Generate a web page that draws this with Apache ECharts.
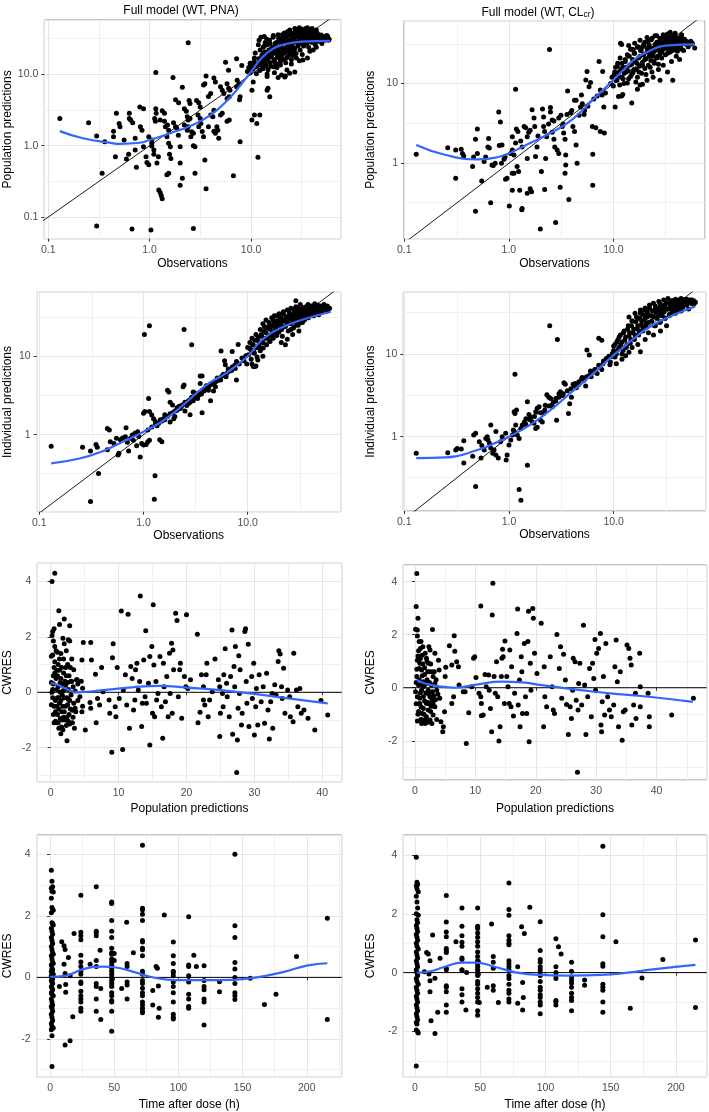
<!DOCTYPE html>
<html><head><meta charset="utf-8">
<script src="https://cdn.jsdelivr.net/npm/echarts@6/dist/echarts.min.js"></script>
<style>html,body{margin:0;padding:0;background:#fff}#c{width:709px;height:1112px}</style>
</head><body><div id="c"></div><script>
// ---------- DATA ----------
const titles = ['Full model (WT, PNA)', 'Full model (WT, CL', 'cr', ')'];

const pnaPop = [[0.13,2.4],[0.25,2.1],[0.30,1.37],[0.34,0.41],[0.36,1.14],[0.30,0.075],[0.67,0.068],[1.03,0.066],[2.7,0.069],
[0.44,1.6],[0.44,1.33],[0.47,2.85],[0.46,0.7],[0.5,2.05],[0.51,1.85],[0.56,1.2],[0.63,2.85],[0.63,2.4],[0.62,0.76],[0.59,0.65],[0.65,2.3],[0.68,2.1],[0.72,1.27],[0.72,0.87],[0.74,0.5],[0.8,3.5],[0.87,3.3],[0.81,1.85],[0.84,1.65],[0.87,0.97],[0.92,0.7],[0.94,0.58],[0.98,0.54],[0.98,1.34],[1.05,1.2],[1.05,1.08],[1.05,0.99],[1.1,0.87],[1.1,0.76],[1.12,2.4],[1.14,2.2],[1.16,2.85],[1.15,10.6],[1.15,3.3],[1.18,0.57],[1.22,0.7],[1.23,0.24],[1.27,0.22],[1.3,0.2],[1.33,0.18],[1.27,2.3],[1.4,2.2],[1.33,3.1],[1.4,2.85],[1.43,1.85],[1.5,1.95],[1.54,1.65],[1.48,1.34],[1.54,1.08],[1.6,0.97],[1.57,0.76],[1.62,0.66],[1.48,0.39],[1.54,0.41],[1.7,9.0],[1.72,2.1],[1.8,1.85],[1.85,1.75],[1.8,4.4],[1.93,4.0],[1.92,1.4],[2.0,0.97],[2.0,0.57],[2.0,0.28],[2.1,0.35],[2.1,6.6],[2.2,3.3],[2.3,3.05],[2.45,4.3],[2.5,3.9],[2.35,2.55],[2.4,2.3],[2.5,2.4],[2.2,1.95],[2.35,1.65],[2.4,1.85],[2.55,1.34],[2.6,1.57],[2.7,1.5],[2.7,1.0],[2.8,0.97],[2.8,0.41],[2.4,27.8],[2.9,4.3],[3.05,4.0],[3.15,3.5],[3.0,2.7],[3.15,2.4],[3.2,2.05],[3.05,1.85],[3.3,1.58],[3.4,1.34],[3.4,7.1],[3.5,7.4],[3.6,9.5],[3.6,0.25],[3.5,0.63],[3.8,4.9],[4.0,5.4],[4.0,2.7],[4.2,2.55],[4.3,3.15],[3.8,1.85],[4.3,1.6],[4.45,1.5],[4.3,8.9],[4.45,7.8],[4.6,1.85],[4.7,1.65],[4.8,1.27],[5.0,6.7],[5.2,6.0],[5.4,5.4],[5.0,2.7],[5.2,2.85],[5.6,14.8],[6.0,11.4],[5.8,7.4],[6.0,6.4],[6.2,6.0],[5.8,4.6],[6.1,4.85],[6.1,2.3],[5.8,2.2],[6.7,0.38],[7.2,16.6],[7.3,8.3],[7.6,7.4],[7.2,6.7],[7.8,4.85],[7.7,4.4],[7.8,1.14],[8.1,13.3],[9.8,14.3],[10,12.2],[10.2,6.0],[10.2,2.3],[10.8,2.7],[11.4,2.05],[11.7,0.69],[12.2,2.7],[14.4,6.0],[15.3,4.85],[14.4,9.3],[14.4,10.1],[21.8,9.5],
[10.5,14],[10.8,17],[11,20],[11.5,13],[11.8,26],[12,30],[12.3,22],[12.6,15],[12.8,17.5],[13,12],[13.3,20],[13.5,25],[13.8,14],[14,18],[14.3,31],[14.6,16],[15,22],[15.3,27],[15.6,13],[16,19],[16.3,24],[16.6,35],[17,15],[17.4,21],[17.8,28],[18,12.5],[18.3,18],[18.7,32],[19,24],[19.5,16],[20,27],[20.3,36],[20.6,20],[21,30],[21.5,23],[22,33],[22.4,17],[22.8,26],[23,40],[23.5,29],[24,21],[24.5,35],[25,27],[25.5,31],[26,24],[26.5,38],[27,20],[27.5,33],[28,28],[28.5,42],[29,25],[29.5,36],[30,30],[30.5,22],[31,34],[31.5,27],[32,39],[32.5,31],[33,25],[33.5,36],[34,29],[34.5,44],[35,33],[35.5,27],[36,37],[36.5,31],[37,24],[37.5,35],[38,29],[38.5,40],[39,33],[40,28],[41,36],[42,31],[43,26],[44,38],[45,33],[46,29],[47,35],[48,31],[50,27],[52,34],[54,31],[56,35],[58,30],
[17,10.5],[19.5,13.5],[25,14],[28,17],[32,19],[38,21],[41,22],[44,24],[30,15.5],[36,17],[12.5,33],[13.5,34],[18.5,9],[22.6,11.5],[24,10.4],
[9.2,11],[9.5,12.5],[9.8,10.5],[10.1,13.5],[10.4,11.8],[10.7,15],[11,12.7],[11.3,10.2],[11.6,14.2],[11.9,16.5],[12.2,11.3],[12.5,13.8],[12.8,18.5],[13.1,12.1],[13.4,15.6],[13.7,20.5],[14,13.2],[14.3,16.8],[14.7,11.6],[15,19.2],[15.4,14.5],[15.8,17.6],[16.2,21.5],[16.6,12.8],[17,16.2],[17.4,19.8],[17.8,14.1],[18.2,23],[18.6,17.1],[19,20.6],[19.5,15.2],[20,18.4],[20.5,22.1],[21,16.3],[21.5,19.7],[22,14.6],[22.6,21],[23.2,17.8],[23.8,23.5],[24.4,19],[25,16],[25.6,21.6],[26.2,18.2],[27,22.8],[27.8,19.6],
[13.2,24],[13.8,28],[14.5,26],[15.2,30],[15.9,23],[16.5,33],[17.2,27],[17.9,25],[18.5,36],[19.2,29],[19.9,24.5],[20.6,32],[21.3,38],[22,27.5],[22.7,35],[23.4,30.5],[24.1,42],[24.8,25.5],[25.5,37],[26.2,32.5],[27,29],[27.7,40],[28.5,34.5],[29.3,26.5],[30.1,38.5],[31,31.5],[31.8,43],[32.7,35.5],[33.6,28.5],[34.5,39.5],[35.4,33.5],[36.4,30],[37.4,41.5],[38.4,36.5],[39.5,32.5],[40.6,39],[41.7,28],[42.8,35],[44,30.5],[45.2,37.5],[46.5,33],[47.8,29.5],[49.2,35.5],[50.6,31],[52,33.5],[53.5,30],[55,32],[57,34],[59,31],[44,42],[40,44],[36,45],[30,45],[27,44],
[10.5,7.8],[14.7,6.4],[20,9.8],[21.5,9.2],[27,10.8],[32.5,15.9]];
const pnaPopFit = [[0.13,1.6],[0.22,1.27],[0.44,1.08],[0.5,1.06],[0.8,1.1],[1.0,1.2],[1.58,1.49],[2.5,1.89],[4,2.7],[6.3,4.85],[7.9,7.1],[10,10.9],[12.6,16.7],[15.8,22],[20,25.7],[31.6,28.7],[60,29.4]];

const clcrPop = [[0.13,1.3],[0.26,1.57],[0.31,1.47],[0.35,1.5],[0.36,1.33],[0.37,1.23],[0.31,0.65],[0.45,0.91],[0.46,1.2],[0.48,2.0],[0.5,2.7],[0.5,1.33],[0.48,0.25],[0.55,0.6],[0.58,1.05],[0.6,1.2],[0.63,1.6],[0.64,2.05],[0.65,1.55],[0.67,0.32],[0.69,0.95],[0.71,0.94],[0.74,1.0],[0.8,4.4],[0.83,3.3],[0.81,1.67],[0.86,1.7],[0.85,1.0],[0.9,1.12],[0.92,1.2],[0.93,0.63],[0.96,0.65],[1.01,0.29],[1.04,1.33],[1.08,1.47],[1.08,2.15],[1.12,1.27],[1.08,0.75],[1.12,0.75],[1.08,0.46],[1.16,8.5],[1.18,2.7],[1.22,2.5],[1.16,1.8],[1.2,0.91],[1.24,0.79],[1.27,0.46],[1.34,0.27],[1.33,0.26],[1.34,1.6],[1.4,2.9],[1.45,2.8],[1.5,2.15],[1.55,2.45],[1.5,1.15],[1.5,0.42],[1.6,0.48],[1.65,0.44],[1.67,4.7],[1.74,3.7],[1.77,2.9],[1.8,1.22],[1.86,1.6],[2.0,0.15],[2.05,0.79],[2.1,4.8],[2.15,3.8],[2.15,2.9],[2.2,0.47],[2.25,1.15],[2.3,2.15],[2.45,26.8],[2.5,5.0],[2.5,4.4],[2.6,3.5],[2.6,2.45],[2.7,2.0],[2.75,1.6],[2.8,0.18],[2.9,1.47],[3.0,1.33],[3.1,0.5],[3.15,4.0],[3.25,2.9],[3.35,2.4],[3.45,2.0],[3.5,1.27],[3.5,0.95],[3.45,0.75],[3.75,0.35],[3.65,8.1],[3.9,4.3],[4.1,2.9],[4.25,2.5],[4.4,1.7],[4.25,6.2],[4.4,6.2],[4.5,1.0],[4.7,4.0],[4.85,5.1],[4.95,7.2],[5.05,5.6],[5.25,4.1],[5.45,11.1],[5.6,14.2],[5.85,9.1],[6.05,10.3],[6.3,2.9],[6.35,1.3],[6.35,0.53],[6.8,2.8],[7.5,2.5],[7.3,18.9],[7.5,8.3],[7.8,7.2],[8.1,5.1],[8.2,2.4],[8.4,7.6],[7.9,14.2],
[1.3,1.9],[1.6,2.6],[1.9,2.2],[2.2,2.5],[2.4,3.1],[2.7,3.4],[3.0,3.7],[3.3,3.1],[3.6,4.1],[4.0,4.6],[5.3,4.6],[5.7,5.2],[6.5,6.4],[7.0,7.0],
[10.4,5.1],[11.2,6.9],[12,7.0],[12.3,7.3],[15,5.7],[18,9.6],[28,11],[11.7,32],[12,31],[15.5,26.8],[39,43],[40,37],
[10.2,13],[10.5,16],[10.8,11],[11,18],[11.3,14],[11.6,21],[12,12],[12.3,16],[12.6,10],[13,19],[13.3,14],[13.6,23],[14,11.5],[14.3,17],[14.6,27],[15,13],[15.3,20],[15.7,15],[16,24],[16.4,10.5],[16.8,18],[17.2,29],[17.6,14],[18,22],[18.5,26],[19,17],[19.5,31],[20,20],[20.5,13],[21,25],[21.5,34],[22,22],[22.5,16],[23,28],[23.5,37],[24,24],[24.5,19],[25,31],[25.5,27],[26,40],[26.5,22],[27,33],[27.5,26],[28,36],[28.5,30],[29,21],[29.5,32],[30,27],[30.5,38],[31,29],[31.5,23],[32,34],[32.5,30],[33,42],[33.5,27],[34,36],[34.5,31],[35,25],[35.5,38],[36,32],[36.5,28],[37,35],[37.5,30],[38,40],[39,33],[40,27],[41,36],[42,31],[43,38],[44,29],[45,34],[46,32],[47,26],[48,36],[50,31],[52,29],[55,34],[57,32],[60,28],
[17,8.5],[19,9.8],[21,11],[24,12],[27,15],[30,17],[33,14],[36,19],[40,22],[43,20],[37,11],
[9.4,10],[9.7,12],[10,9.3],[10.3,14],[10.6,11],[10.9,16.5],[11.2,12.5],[11.5,9.6],[11.8,15],[12.1,18],[12.4,11.5],[12.7,13.5],[13,20],[13.3,16],[13.6,10.2],[13.9,14.5],[14.2,22],[14.6,12.3],[15,17.5],[15.4,13.8],[15.8,24],[16.2,19],[16.6,15],[17,12],[17.4,21],[17.8,16.5],[18.2,26],[18.6,13.5],[19,18.5],[19.5,23],[20,15.5],[20.5,20.5],[21,28],[21.6,17],[22.2,24.5],[22.8,19.5],[23.4,14],[24,22],[24.6,18],[25.2,26],[26,21],[27,17.5],[28,23.5],
[14,30],[15,27],[16,32],[17,28.5],[18,35],[19,29],[20,33],[21,38],[22,30.5],[23,35.5],[24,27.5],[25,40],[26,33],[27,29.5],[28,37],[29,31.5],[30,41],[31,34],[32,28],[33,38],[34,32],[35,36],[36,29],[37,40],[38,34],[39,30.5],[40,38],[41,33],[42,28.5],[43,35],[44,31],[46,36.5],[48,32],[50,34],[52,30],[54,33],[56,31.5],[45,41],[35,44],[29,25],[33,24],[37,26],[41,25.5],[45,27]];
const clcrPopFit = [[0.13,1.7],[0.25,1.27],[0.5,1.12],[0.79,1.2],[1.0,1.33],[1.58,1.78],[2.5,2.4],[4,3.5],[6.3,6.2],[10,11.1],[12.6,15],[15.8,20],[20,24],[31.6,30],[60,31]];

const pnaIpred = [[0.13,0.71],[0.26,0.69],[0.31,0.62],[0.35,0.75],[0.36,0.69],[0.31,0.14],[0.37,0.32],[0.45,0.64],[0.45,1.2],[0.47,1.15],[0.48,0.81],[0.52,0.77],[0.57,0.55],[0.58,0.58],[0.55,0.9],[0.6,0.86],[0.63,0.91],[0.67,0.94],[0.68,1.23],[0.72,0.62],[0.75,0.9],[0.78,0.99],[0.83,1.04],[0.88,1.09],[0.86,0.72],[0.93,0.52],[0.96,0.77],[1.0,0.74],[1.06,0.75],[1.0,1.87],[1.03,1.97],[1.12,2.9],[1.14,1.97],[1.02,19],[1.14,24.5],[1.1,0.81],[1.14,0.85],[1.29,0.3],[1.27,0.15],[1.2,1.78],[1.25,1.6],[1.3,1.47],[1.43,0.86],[1.5,0.81],[1.35,1.3],[1.45,1.55],[1.55,1.6],[1.6,1.8],[1.7,3.7],[1.75,3.5],[1.8,2.6],[1.9,2.4],[1.8,1.45],[1.95,1.6],[2.0,1.7],[2.1,2.05],[2.25,2.15],[2.35,2.4],[2.4,4.1],[2.45,4.3],[2.45,22],[2.6,2.5],[2.7,2.7],[2.8,2.8],[2.9,3.0],[2.9,14],[2.5,2.0],[2.8,1.8],[3.0,3.5],[3.1,3.4],[3.3,2.9],[3.4,3.2],[3.5,5.6],[3.65,5.6],[3.5,4.5],[3.65,1.9],[3.8,3.6],[4.1,3.9],[4.25,4.1],[4.4,2.7],[4.7,3.6],[4.9,4.1],[5.0,4.8],[5.25,5.0],[5.4,5.3],[5.65,5.6],[5.85,5.9],[5.55,11.7],[6.0,8.8],[6.1,7.8],[6.3,6.1],[6.55,6.4],[6.8,6.7],[8.1,14.2],[7.1,7.3],[7.5,7.7],[7.8,8.6],[7.1,11.5],[7.8,5.0],[11.3,7.4],[11.7,7.4],
[1.2,1.25],[1.3,1.35],[1.4,1.4],[1.5,1.5],[1.6,1.55],[1.7,1.7],[1.8,1.85],[1.9,1.9],[2.0,2.0],[2.1,2.2],[2.2,2.3],[2.3,2.25],[2.5,2.6],[2.6,2.35],[2.7,2.5],[2.8,2.6],[3.0,2.7],[3.2,3.0],[3.4,3.4],[3.6,3.3],[3.8,3.8],[4.0,4.2],[4.2,3.7],[4.5,4.4],[4.8,4.6],[5.1,5.3],[5.5,5.0],[6.2,5.5],[6.5,6.9],[7.0,6.6],[7.6,7.0],[8.3,8.0],[8.8,9.5],[9.2,8.8],[9.6,10.2],[1.1,1.15],[0.9,0.95],[0.8,0.85],[0.7,0.8],
[10,13],[10.5,15],[10.8,12],[11,17],[11.3,14],[11.6,11],[12,19],[12.4,16],[12.8,13],[13.2,22],[13.6,18],[14,15],[14.5,24],[15,20],[15.5,17],[16,27],[16.5,22],[17,18],[17.5,29],[18,24],[18.5,20],[19,33],[19.5,26],[20,22],[20.5,30],[21,25],[21.5,18],[22,35],[22.5,28],[23,24],[23.5,32],[24,27],[24.5,21],[25,38],[25.5,30],[26,26],[26.5,34],[27,29],[27.5,23],[28,40],[28.5,33],[29,28],[29.5,36],[30,31],[30.5,25],[31,39],[31.5,34],[32,29],[32.5,37],[33,32],[33.5,27],[34,41],[34.5,35],[35,30],[35.5,38],[36,33],[37,44],[37.5,36],[38,31],[39,39],[40,34],[41,42],[42,37],[43,33],[44,40],[45,36],[46,44],[47,38],[48,34],[50,41],[52,37],[55,43],[58,38],[60,41],
[29,51],[21,15],[24,16.5],[27,19],[23,14],[31,21],[12.5,9],[14,10],[11,8],[12,7.5],
[9.8,8],[10.2,10.5],[10.5,12.5],[10.8,9.2],[11.1,14],[11.4,11],[11.7,16],[12,13],[12.3,9.8],[12.6,17.5],[12.9,14.5],[13.2,11.8],[13.5,19],[13.8,15.5],[14.1,12.8],[14.4,21],[14.8,17],[15.2,14],[15.6,23],[16,18.5],[16.4,15.5],[16.8,25],[17.2,20],[17.6,17],[18,27],[18.5,22],[19,18.5],[19.5,24.5],[20,20.5],[20.6,26.5],[21.2,22],[21.8,28.5],
[14,26],[15,29],[16,24],[17,31],[18,33],[19,28.5],[20,35],[21,31],[22,37],[23,29.5],[24,39],[25,34],[26,41],[27,31.5],[28,36.5],[29,43],[30,34.5],[31,40.5],[32,46],[33,37],[34,33],[35,42],[36,38],[37,34.5],[38,46],[39,41],[40,37],[41,44],[42,40],[43,36],[44,47],[45,42],[46,38.5],[47,45],[48,41],[50,44],[52,39],[54,46],[56,42],[58,44],[61,41],[26,22],[29,25],[32,27],[35,29],[38,31],[42,33]];
const pnaIpredFit = [[0.13,0.43],[0.25,0.5],[0.4,0.61],[0.63,0.81],[1,1.09],[1.58,1.54],[2.5,2.5],[4,4.3],[6.3,6.2],[10,10],[12.6,14.5],[15.8,18.8],[20,22.5],[31.6,28.6],[63,37]];

const clcrIpred = [[0.13,0.63],[0.26,0.64],[0.31,0.69],[0.32,0.72],[0.35,0.71],[0.37,0.48],[0.37,0.89],[0.45,0.58],[0.46,1.05],[0.48,1.1],[0.48,0.25],[0.52,0.87],[0.54,0.55],[0.55,0.78],[0.58,0.69],[0.6,0.95],[0.62,1.0],[0.63,0.91],[0.65,0.83],[0.67,0.73],[0.7,0.63],[0.72,0.69],[0.75,0.6],[0.79,0.55],[0.67,1.38],[0.75,1.15],[0.83,0.87],[0.86,1.0],[0.93,1.1],[0.94,0.52],[0.96,0.6],[1.0,0.79],[1.04,0.91],[1.08,1.05],[1.12,1.15],[1.16,1.38],[1.12,2.0],[1.14,1.9],[1.18,2.1],[1.14,5.7],[1.2,1.05],[1.25,0.95],[1.25,0.23],[1.3,0.17],[1.5,0.45],[1.34,1.38],[1.4,1.5],[1.45,1.65],[1.5,2.65],[1.55,1.85],[1.6,1.72],[1.67,1.5],[1.73,1.45],[1.8,2.0],[1.86,2.2],[1.94,2.3],[1.8,1.25],[1.86,1.3],[2.0,1.58],[2.08,1.5],[2.14,1.9],[2.22,2.4],[2.3,3.2],[2.4,3.0],[2.5,2.9],[2.45,22],[2.9,15],[2.55,2.4],[2.65,2.6],[2.8,2.7],[2.85,1.58],[3.0,3.3],[3.1,3.5],[3.25,3.15],[3.35,4.5],[3.45,4.3],[3.8,2.5],[3.95,3.0],[4.1,4.3],[4.25,4.1],[4.4,3.9],[3.7,1.9],[4.65,4.6],[4.95,5.0],[5.2,4.8],[5.4,4.1],[5.55,11.2],[5.85,9.7],[5.85,5.5],[6.1,5.3],[6.3,6.0],[7.2,15.5],[7.7,14.7],[8.0,8.2],[7.7,6.5],[6.95,5.8],[9.2,7.4],[9.6,9.3],[10.6,7.6],
[1.1,1.2],[1.3,1.25],[1.45,1.4],[1.6,1.6],[1.75,1.75],[2.0,1.95],[2.2,2.1],[2.4,2.35],[2.6,2.3],[2.8,2.9],[3.0,3.0],[3.3,3.3],[3.6,3.6],[3.9,3.8],[4.3,4.4],[4.6,4.2],[5.0,5.2],[5.5,5.3],[6.0,6.2],[6.6,6.5],[7.2,7.3],[7.9,7.6],[8.5,8.8],[9.0,9.4],[9.8,10.2],
[10,11],[10.3,13],[10.6,10],[11,15],[11.3,12],[11.6,17],[12,14],[12.3,11],[12.6,19],[13,16],[13.4,13],[13.8,22],[14.2,18],[14.6,15],[15,25],[15.5,20],[16,17],[16.5,28],[17,22],[17.5,19],[18,31],[18.5,25],[19,21],[19.5,34],[20,27],[20.5,23],[21,30],[21.5,18],[22,36],[22.5,29],[23,25],[23.5,33],[24,28],[24.5,22],[25,38],[25.5,31],[26,27],[26.5,35],[27,30],[27.5,24],[28,40],[28.5,33],[29,29],[29.5,37],[30,32],[31,27],[32,41],[33,35],[34,30],[35,39],[36,33],[37,44],[38,36],[39,31],[40,40],[41,35],[42,45],[43,38],[44,33],[45,42],[46,37],[48,44],[50,39],[52,35],[54,42],[56,45],[58,40],[60,42],
[12,8.6],[14,10.5],[13,9.5],[17,13],[20,15],[24,17],[28,19],[32,22],[15,12],[18,10.6],
[9.3,8],[9.7,10],[10,12.5],[10.3,9.2],[10.7,14],[11,11.3],[11.3,16],[11.7,13],[12,10],[12.4,18],[12.8,14.8],[13.2,12],[13.6,20],[14,16.5],[14.4,13.5],[14.8,22],[15.3,18],[15.8,15],[16.3,24.5],[16.8,20],[17.3,17],[17.8,27],[18.4,22.5],[19,19],[19.6,25.5],[20.2,21.5],[20.8,28],[21.5,24],
[14,28],[15,25],[16,31],[17,27],[18,34],[19,30],[20,36],[21,32.5],[22,39],[23,29],[24,41],[25,35],[26,31.5],[27,43],[28,37],[29,33],[30,45],[31,39.5],[32,35],[33,47],[34,41],[35,36.5],[36,44],[37,40],[38,37],[39,46],[40,42.5],[41,38.5],[42,44],[43,40.5],[44,47],[45,43],[46,39],[47,45.5],[48,41.5],[50,46],[52,42],[54,45],[56,40.5],[58,44],[60,42.5],[25,22],[28,24.5],[31,27],[34,29],[37,31],[40,33.5],[44,35]];
const clcrIpredFit = [[0.13,0.55],[0.25,0.56],[0.5,0.69],[0.79,0.87],[1.0,1.0],[1.58,1.38],[2.5,2.1],[4,3.5],[6.3,5.7],[10,9.7],[12.6,12.3],[15.8,15.6],[20,19.6],[31.6,27],[60,37.5]];

const pnaRes = [[0.2,4.0],[0.6,4.3],[1.2,2.95],[0.3,2.2],[0.5,2.3],[0.2,2.05],[0.4,1.85],[0.6,1.65],[0.3,1.35],[0.1,1.3],[0.8,1.5],[1.0,1.45],[1.5,1.4],[1.8,1.95],[2.0,1.75],[2.3,1.5],[2.6,1.9],[2.8,1.85],[2.0,2.65],[1.3,2.45],[2.8,2.4],[2.5,1.0],[2.2,0.9],[1.9,1.2],[1.3,1.2],[0.6,0.7],[0.9,0.8],[0.4,0.3],[0.1,0.35],[0.2,0.0],[0.1,-0.45],[0.5,-0.5],[0.7,-1.05],[0.8,-1.1],[1.0,-0.8],[1.2,-0.6],[1.4,-0.95],[1.5,-1.5],[1.6,-1.25],[1.8,-1.35],[2.0,-0.7],[2.2,-0.5],[2.4,-1.75],[2.6,-1.05],[2.8,-0.3],[3.0,-0.1],[3.2,-0.65],[3.5,-1.3],[3.0,0.4],[3.3,0.2],[3.8,0.45],[1.1,0.2],[1.5,0.5],[1.7,0.3],[2.0,-0.2],[2.3,0.6],[2.6,0.1],[2.9,0.9],[0.5,0.9],[0.9,0.1],[1.0,-0.2],[1.3,-0.4],[1.7,-0.1],[2.2,0.25],[2.5,-0.45],[2.7,-0.8],[0.3,-0.2],[0.8,0.5],[1.5,-0.3],[1.9,0.7],[2.8,-1.15],[3.1,1.2],[3.4,-0.4],[3.7,-0.7],[4.0,0.3],[4.5,0.4],[4.7,-0.5],[4.0,-0.3],[3.6,0.05],[1.1,-1.1],[1.6,-0.7],[0.4,-0.8],[2.1,-1.0],[1.4,0.0],[2.4,-0.2],
[0.6,1.1],[1.0,0.6],[1.2,-0.2],[1.6,0.9],[1.8,-0.5],[2.1,0.4],[2.4,-0.9],[2.7,0.6],[0.9,-0.5],[1.3,0.8],[0.7,-0.3],[1.9,-0.9],[2.3,-1.2],[0.4,0.6],[1.1,1.0],[1.7,-1.0],[2.9,-0.6],[3.3,-0.9],
[0.3,0.1],[0.7,-0.7],[1.4,0.35],[2.0,0.1],[2.6,-0.25],[0.5,-1.1],[1.2,-1.3],[1.8,0.05],[2.5,0.35],[3.2,-1.1],
[3.1,0.39],[3.4,0.81],[3.6,-0.58],[3.9,0.45],[4.3,-0.16],[4.6,-0.7],[4.6,1.17],[4.8,1.8],[4.7,0.15],[5.1,-1.36],[5.9,1.8],[6.0,1.17],[5.8,-0.37],[5.9,-0.58],[6.6,0.65],[6.7,-1.1],[6.9,-0.22],[7.2,-0.46],[7.5,0.9],[7.7,0.02],[8.6,-0.28],[8.7,-0.76],[9.0,-2.17],[9.2,1.75],[9.1,1.25],[9.5,-0.52],[9.6,-0.88],[9.8,0.9],[10.1,-0.22],[10.4,2.94],[10.6,-2.07],[10.7,0.08],[11.0,0.63],[11.2,-0.46],[11.4,2.82],[11.6,-1.3],[11.8,0.93],[12.0,0.5],[12.2,-0.64],[12.4,-0.28],[12.5,0.81],[12.7,1.05],[12.9,0.08],[13.1,0.39],[13.2,3.48],[13.4,-1.24],[13.5,-0.4],[13.7,1.17],[13.9,-0.16],[14.0,2.22],[14.1,-0.4],[14.4,0.33],[14.6,-1.9],[14.6,1.29],[14.9,1.65],[15.0,-0.76],[15.1,3.16],[15.2,0.99],[15.3,-0.88],[15.5,0.39],[15.6,-0.28],[15.8,-0.04],[16.1,1.29],[16.3,-0.52],[16.5,-1.66],[16.6,1.05],[16.7,0.2],[16.9,-0.34],[17.1,0.57],[17.3,-0.88],[17.5,1.41],[17.6,-0.04],[17.8,1.77],[17.9,-0.76],[18.0,1.53],[18.1,0.81],[18.4,2.86],[18.6,2.59],[18.8,-0.16],[19.0,0.81],[19.1,1.05],[19.3,-0.94],[19.7,0.57],[19.9,0.2],[20.0,2.8],[20.2,0.14],[20.6,0.45],[21.6,2.1],[21.7,-1.1],[22.0,-0.72],[22.2,0.63],[22.5,0.2],[22.5,-0.28],[22.7,-0.46],[22.9,0.63],[23.0,1.05],[23.2,-0.88],[23.4,-0.28],[23.8,0.02],[24.2,1.2],[24.7,0.45],[24.9,0.2],[24.9,-1.6],[25.0,-0.76],[25.3,-0.04],[25.4,-0.52],[25.5,0.63],[25.7,1.57],[25.9,0.33],[26.0,-0.16],[26.3,-0.88],[26.5,0.57],[26.7,2.25],[26.8,-1.52],[27.0,0.93],[27.1,0.2],[27.2,1.65],[27.4,-2.9],[27.5,-1.72],[27.6,-0.58],[27.7,1.32],[27.8,-0.04],[27.9,0.81],[28.1,-1.18],[28.2,-0.76],[28.6,2.2],[28.7,2.3],[28.8,0.39],[28.9,-0.4],[29.1,1.74],[29.2,-1.24],[29.6,0.57],[29.7,-0.22],[29.9,1.05],[30.0,-1.54],[30.2,-0.52],[30.3,0.14],[30.5,-1.18],[30.7,0.63],[31.0,-0.34],[31.3,0.2],[31.5,-1.12],[31.8,0.69],[32.0,-0.64],[32.2,-1.69],[32.4,-0.34],[32.6,-0.04],[32.7,-1.3],[33.0,0.27],[33.2,-0.1],[33.5,1.11],[33.6,1.5],[33.8,1.38],[34.0,0.2],[34.1,-0.22],[34.3,0.87],[34.5,-0.76],[34.9,0.08],[35.2,-0.16],[35.3,-0.88],[35.7,-1.06],[35.8,1.41],[36.2,0.08],[36.4,-0.52],[36.7,0.14],[36.9,-0.76],[37.3,-0.64],[37.9,-0.94],[38.9,-1.36],[39.8,-0.3],[40.8,-0.82]];
const pnaResFit = [[0,0.33],[1,0.27],[2.4,0.11],[4,0],[7,0.06],[12,0.18],[16,0.23],[20,0.17],[25,0.08],[30,-0.06],[35,-0.22],[40.8,-0.4]];

const clcrRes = [[0.3,4.31],[0.2,3.06],[0.5,2.62],[0.1,2.21],[0.4,2.18],[0.4,1.95],[0.7,1.74],[0.9,1.48],[1.0,1.74],[1.2,1.23],[0.4,1.04],[0.7,0.73],[0.3,0.42],[0.6,0.1],[0.1,-0.15],[0.4,-0.34],[0.8,-0.59],[1.0,-0.72],[1.2,-0.97],[1.4,-1.22],[1.7,-1.35],[1.9,-1.09],[2.2,-0.84],[2.5,-1.22],[2.8,-1.35],[3.0,-1.03],[1.7,1.3],[1.9,1.11],[2.2,0.92],[2.5,1.42],[2.3,1.55],[2.9,2.2],[2.8,0.6],[3.0,0.42],[3.3,0.16],[3.6,-0.09],[3.9,1.04],[4.0,0.67],[3.3,1.3],[4.1,-0.4],[4.3,-1.28],[4.6,-1.66],[4.7,-1.47],[4.9,-0.91],[1.4,-0.34],[1.9,-0.59],[2.2,-0.09],[1.4,0.23],[1.1,-0.09],[2.5,-0.34],[1.9,0.16],[2.8,-0.47],[3.3,-0.72],[1.1,0.67],[0.8,0.92],[1.4,-0.78],
[0.5,1.2],[0.9,1.1],[1.3,0.9],[1.6,0.5],[2.0,0.3],[2.4,0.6],[2.7,0.1],[3.1,-0.3],[3.5,0.3],[0.6,-0.9],[1.0,-1.2],[1.5,-1.0],[1.8,-1.25],[2.1,-1.3],[2.4,-0.6],[2.6,-0.9],[0.3,0.7],[0.7,0.3],[1.2,0.45],[1.5,0.05],[1.8,-0.2],[2.3,-0.25],[0.9,-0.2],[1.6,0.75],[2.0,1.0],[2.6,0.9],[3.4,-0.45],[3.8,-0.25],[0.2,-0.6],[0.5,-1.0],[1.1,-1.35],[2.0,-0.55],[2.9,-0.15],[3.2,0.6],[1.3,1.55],[0.6,1.4],
[0.2,0.2],[0.8,-0.4],[1.6,-0.5],[2.1,0.6],[2.7,-0.7],[3.6,-1.2],[0.4,-1.25],[1.2,0.1],[2.4,0.2],[3.0,-0.6],
[5.0,0.42],[5.1,0.77],[5.7,1.58],[6.1,0.86],[6.5,1.96],[6.6,1.38],[6.1,-0.59],[6.4,-0.34],[6.9,0.98],[7.2,0.79],[7.3,0.1],[8.0,-0.15],[8.3,-0.15],[8.5,-2.1],[8.9,-0.94],[9.4,0.04],[9.7,1.11],[9.9,1.17],[10.1,0.39],[10.6,-0.21],[10.9,-0.34],[10.9,3.08],[11.0,-0.59],[11.0,-1.06],[11.3,-1.03],[11.6,0.5],[11.8,0.04],[12.2,0.48],[12.3,-0.09],[12.5,-0.78],[12.7,-1.66],[12.8,2.74],[12.9,3.94],[13.1,0.42],[13.3,-0.21],[13.5,0.98],[13.7,-0.34],[13.9,-2.01],[14.1,-1.47],[14.3,0.42],[14.4,1.11],[14.5,1.45],[14.6,1.17],[14.8,-0.59],[14.9,1.76],[15.2,0.42],[15.4,0.04],[15.6,-0.59],[15.7,1.42],[15.9,-0.72],[16.0,0.79],[16.3,-1.07],[16.5,-0.21],[16.9,2.05],[17.0,2.97],[17.1,-0.65],[17.3,0.29],[17.4,-1.47],[17.6,1.17],[17.7,0.6],[17.8,-0.97],[18.1,1.67],[18.3,-0.34],[18.5,-0.97],[18.7,1.74],[18.8,2.89],[18.9,-2.04],[19.1,0.92],[19.2,-0.09],[19.5,2.99],[19.6,2.62],[19.8,1.3],[20.2,0.54],[20.9,2.43],[21.3,-1.47],[21.4,0.79],[21.5,-0.34],[21.8,-0.72],[22.4,1.17],[22.7,0.04],[22.9,-0.84],[23.1,-0.97],[23.5,2.01],[23.9,0.73],[24.1,1.55],[24.3,-0.4],[24.6,1.26],[24.9,0.29],[25.1,-0.63],[25.4,-1.76],[25.7,-0.72],[25.9,-1.16],[26.1,-0.09],[26.2,1.11],[26.5,0.98],[26.7,-0.47],[27.0,-0.84],[26.9,-3.19],[27.1,0.16],[27.3,0.92],[27.6,-0.65],[27.9,2.36],[28.1,0.1],[28.3,-1.76],[28.6,-0.34],[28.9,0.73],[29.2,-1.09],[29.4,0.92],[29.6,0.35],[29.8,1.82],[29.9,-0.09],[30.1,1.3],[30.4,1.48],[30.7,2.05],[30.8,-1.41],[30.9,-1.66],[31.0,-0.53],[31.2,0.42],[31.4,-1.03],[31.6,1.67],[31.9,-0.34],[32.2,-0.84],[32.5,-1.09],[32.9,-0.65],[33.1,0.79],[33.3,1.8],[33.5,0.23],[33.7,-1.47],[34.0,0.6],[34.3,-1.98],[34.5,-0.91],[34.8,-0.84],[35.1,1.61],[35.4,1.48],[35.6,1.11],[35.8,0.86],[35.9,-1.41],[36.2,-0.65],[36.5,-0.21],[36.6,-1.16],[37.2,1.3],[37.3,0.04],[37.3,-0.72],[38.6,-0.21],[38.8,-1.09],[38.8,-1.47],[42.5,-1.03],[46.1,-0.4]];
const clcrResFit = [[0.3,0.29],[1.7,0.16],[4.4,0.04],[6.6,0],[9.9,0.11],[14.4,0.23],[17.7,0.2],[21,0.1],[25.4,-0.03],[29.8,-0.15],[34.3,-0.25],[38.7,-0.34],[46,-0.53]];

const pnaTad = [[1,3.48],[1.5,3.13],[2,2.95],[1,2.9],[1.5,2.8],[2.5,2.78],[1,2.57],[1.5,2.27],[2,2.2],[2.5,2.18],[1,2.1],[1.5,1.78],[2,1.75],[2.5,1.7],[1,1.6],[1.5,1.5],[2,1.4],[1,1.3],[1.5,1.2],[2,1.1],[1,1.0],[1.5,0.9],[2,0.8],[2.5,0.75],[1,0.7],[1.5,0.6],[2,0.5],[2.5,0.45],[1,0.4],[1.5,0.3],[2,0.25],[1,0.2],[1.5,0.15],[2.5,0.1],[1,0.05],[1.5,0.0],[2,-0.05],[1,-0.1],[1.5,-0.15],[2,-0.2],[1,-0.3],[1.5,-0.35],[2,-0.4],[1,-0.5],[1.5,-0.55],[2.5,-0.6],[1,-0.7],[1.5,-0.8],[2,-0.9],[1,-0.95],[1.5,-1.0],[2,-1.1],[1,-1.2],[1.5,-1.3],[2,-1.4],[1,-1.5],[1.5,-1.6],[2.5,-1.65],[1,-1.7],[1.5,-1.9],[1.5,-2.9],
[9.1,1.16],[10.9,1.03],[11.7,0.91],[10.9,0.43],[11.7,0.13],[12.2,-0.23],[12.2,-0.48],[11.7,-2.2],[7.3,-0.3],[14.3,0.65],[15.6,0.05],[15.6,-2.06],[17.7,-1.28],[18.7,1.43],
[24,2.67],[24,1.47],[24,1.35],[24,1.22],[24,0.72],[24,0.5],[24,0.35],[24,0.2],[24,0.1],[24,-0.15],[24,-0.2],[24,-0.45],[24,-0.6],[24,-0.7],[24,-0.8],[24,-1.0],[24,-1.1],[31.2,0.43],
[36,2.95],[36,1.5],[36,1.45],[36,1.35],[36,0.55],[36,0.35],[36,-0.2],[36,-0.3],[36,-0.7],[36,-1.1],[39,0.88],[39.5,-0.36],[39.5,-1.37],
[48,2.45],[48,2.4],[48,1.85],[48,1.5],[48,1.3],[48,0.95],[48,0.8],[48,0.75],[48,0.6],[48,0.5],[48,0.4],[48,0.3],[48,0.2],[48,0.1],[48,0.0],[48,-0.1],[48,-0.2],[48,-0.3],[48,-0.5],[48,-0.6],[48,-0.75],[48,-0.8],[48,-1.1],[48,-1.75],[50,0.78],[50,0.55],
[55.8,-0.36],[59.7,1.79],[60,0.45],[60,0.35],[60,-0.15],[60,-0.25],[60,-0.7],[64.9,0.8],
[72,4.3],[72,2.25],[72,2.2],[72,2.05],[72,1.85],[72,1.2],[72,1.15],[72,0.95],[72,0.9],[72,0.7],[72,0.2],[72,0.1],[72,-0.1],[72,-0.2],[72,-0.35],[72,-0.5],[72,-0.6],[72,-0.8],[72,-0.9],[72,-1.0],[72,-1.1],[72,-1.15],
[80,-0.43],[80,-0.9],[82.6,0.35],[83.6,0.3],[84.4,-0.28],[84.4,-1.3],[85,-1.0],[89,2.03],
[96,1.15],[96,0.7],[96,0.45],[96,0.2],[96,0.15],[96,0.05],[96,-0.15],[96,-0.3],[96,-0.5],[96,-0.8],[96,-1.2],[96,-1.3],[96,-1.35],
[108,1.97],[108,0.4],[108,0.35],[108,0.05],[108,-0.1],[108,-0.15],[108,-0.55],[108,-0.7],[108,-0.95],[108,-1.0],[112,0.72],[114,0.35],
[120,0.38],[120,-0.1],[120,-0.3],[120,-0.4],[120,-0.7],[120,-0.8],[120,-1.55],[132,-0.14],[132,-0.47],
[144,4.0],[144,1.68],[144,1.3],[144,0.48],[144,0.27],[144,0.0],[144,-0.2],[144,-0.5],[144,-0.6],[144,-0.72],
[156,-0.03],[167,-0.88],[176,-0.55],[192,0.68],[216,1.92],[216,-1.37]];
const pnaTadFit = [[0,0.02],[11.7,0.05],[26,0.27],[41.6,0.35],[50,0.33],[65,0.18],[78,0.02],[91,-0.07],[104,-0.09],[130,-0.09],[156,-0.03],[182,0.18],[200,0.38],[216,0.46]];

const clcrTad = [[1,3.92],[1.5,3.07],[2,3.0],[1,2.95],[1.5,2.85],[2.5,2.75],[1,2.6],[1.5,2.4],[2,2.2],[1,2.0],[2.5,1.95],[1.5,1.8],[2,1.7],[1,1.6],[1.5,1.5],[2,1.4],[1,1.3],[1.5,1.2],[2,1.1],[1,1.0],[1.5,0.9],[2.5,0.8],[1,0.7],[1.5,0.6],[2,0.5],[1,0.4],[1.5,0.3],[2,0.2],[1,0.1],[1.5,0.0],[2,-0.1],[1,-0.2],[1.5,-0.3],[2.5,-0.4],[1,-0.5],[1.5,-0.6],[2,-0.7],[1,-0.8],[1.5,-0.9],[2,-1.0],[1,-1.1],[1.5,-1.2],[2,-1.3],[1,-1.4],[1.5,-1.5],[2,-1.6],[1,-1.7],[1.5,-1.75],[1,-1.95],[2,-2.0],[2.5,-2.05],[1,-3.18],
[7.2,0.03],[8.9,0.68],[10.2,0.63],[10.7,-0.05],[11.5,-0.28],[11.5,-0.65],[11.5,0.4],[12.3,-1.64],[13.5,1.28],[15.3,-0.19],[15.3,-2.07],[17.4,-1.35],[19.2,0.49],
[24,2.62],[24,1.72],[24,1.38],[24,1.22],[24,0.82],[24,0.75],[24,0.68],[24,0.15],[24,0.1],[24,-0.45],[24,-0.5],[24,-0.65],[24,-1.1],[24,-1.35],[31.4,1.05],
[36,2.2],[36,1.58],[36,1.25],[36,1.03],[36,0.9],[36,0.5],[36,0.45],[36,0.1],[36,0.08],[36,-0.55],[36,-0.75],[36,-1.0],[39,-1.27],[39.6,0.0],
[48,2.2],[48,1.58],[48,1.5],[48,1.35],[48,1.2],[48,1.05],[48,0.9],[48,0.7],[48,0.55],[48,0.4],[48,0.35],[48,0.3],[48,0.2],[48,0.1],[48,0.0],[48,-0.1],[48,-0.3],[48,-0.4],[48,-0.55],[48,-0.7],[48,-0.85],[48,-1.0],[48,-1.3],[48,-1.45],[49.3,-1.02],[48.5,0.37],
[55.4,-0.5],[58.7,1.65],[60,0.55],[60,0.35],[60,0.15],[60,-0.45],[60,-0.6],[63.9,-1.02],
[72,3.05],[72,2.15],[72,1.95],[72,1.25],[72,1.1],[72,1.0],[72,0.95],[72,0.4],[72,0.3],[72,0.2],[72,0.1],[72,-0.1],[72,-0.2],[72,-0.4],[72,-0.6],[72,-0.7],[72,-0.9],[72,-1.0],
[78.7,0.2],[78.7,-1.04],[82.5,-1.27],[82.5,-0.34],[83,-0.85],[83.8,1.33],[81.7,1.56],[88,2.22],
[96,1.73],[96,0.75],[96,0.45],[96,0.35],[96,0.2],[96,0.1],[96,0.0],[96,-0.1],[96,-0.3],[96,-0.5],[96,-0.6],[96,-0.75],[96,-0.85],[96,-1.0],[96,-1.1],[96,-1.4],
[108,1.15],[108,0.2],[108,0.0],[108,-0.1],[108,-0.2],[108,-0.95],[108,-1.0],[108,-1.1],[110,0.88],[112,0.63],
[120,0.35],[120,0.05],[120,-0.15],[120,-0.25],[120,-0.35],[120,-0.5],[120,-0.7],[120,-0.85],[120,-0.95],[120,-1.3],[130,-0.25],[130,-0.43],
[144,4.3],[144,1.97],[144,1.22],[144,0.3],[144,0.22],[144,-0.4],[144,-0.5],[144,-0.6],[144,-1.0],[144,-1.35],
[154,1.05],[165,-1.21],[174,-0.18],[190,0.45],[215,1.11],[215,-1.19]];
const clcrTadFit = [[1.3,0],[10,0.03],[23,0.2],[36,0.34],[46,0.34],[61,0.2],[77,0.01],[95,-0.08],[117,-0.1],[143,-0.08],[163,0],[184,0.12],[215,0.26]];

// ---------- HELPERS ----------
const FONT = 'Liberation Sans, Arial, sans-serif';
const isPow = v => { const l = Math.log10(v); return Math.abs(l - Math.round(l)) < 1e-6; };
const fmtDec = v => isPow(v) ? v.toFixed(1) : '';
const fmtInt = v => isPow(v) ? String(+v.toPrecision(3)) : '';
const fmtLin = step => v => Math.abs(v / step - Math.round(v / step)) < 1e-6 ? String(Math.round(v)) : '';
const logMinor = [-1.5, -0.5, 0.5, 1.5].map(e => Math.pow(10, e));

const panels = [
  {rect:[44.3,20,296.4,218.7], log:true, xr:[0.0914,76.6], yr:[0.0497,57.8], xf:fmtDec, yf:fmtDec, xn:'Observations', yn:'Population predictions', xg:18.5, yg:31, pts:pnaPop, fit:pnaPopFit},
  {rect:[404,20.7,301,218], log:true, xr:[0.0993,75.3], yr:[0.113,61.6], xf:fmtDec, yf:fmtInt, xn:'Observations', yn:'Population predictions', xg:18.5, yg:27.3, pts:clcrPop, fit:clcrPopFit},
  {rect:[36.7,292.3,304,219.4], log:true, xr:[0.0944,78.1], yr:[0.104,65.6], xf:fmtDec, yf:fmtInt, xn:'Observations', yn:'Individual predictions', xg:15.6, yg:23.4, pts:pnaIpred, fit:pnaIpredFit},
  {rect:[403.3,292.3,302.4,218.7], log:true, xr:[0.0978,75.7], yr:[0.126,55.7], xf:fmtDec, yf:fmtInt, xn:'Observations', yn:'Individual predictions', xg:16.3, yg:26.6, pts:clcrIpred, fit:clcrIpredFit},
  {rect:[37.3,563.3,304.4,218.4], log:false, xr:[-1.97,42.86], yr:[-3.23,4.66], xf:fmtLin(10), yf:fmtLin(2), xn:'Population predictions', yn:'CWRES', xg:20.6, yg:24, pts:pnaRes, fit:pnaResFit, xm:[5,15,25,35], ym:[-3,-1,1,3]},
  {rect:[403.3,565,303.4,215], log:false, xr:[-1.93,48.3], yr:[-3.48,4.63], xf:fmtLin(10), yf:fmtLin(2), xn:'Population predictions', yn:'CWRES', xg:22.3, yg:26.6, pts:clcrRes, fit:clcrResFit, xm:[5,15,25,35,45], ym:[-3,-1,1,3]},
  {rect:[36.7,835,305,241.7], log:false, xr:[-10.4,227.2], yr:[-3.23,4.63], xf:fmtLin(50), yf:fmtLin(2), xn:'Time after dose (h)', yn:'CWRES', xg:21.6, yg:23.4, pts:pnaTad, fit:pnaTadFit, xm:[25,75,125,175,225], ym:[-3,-1,1,3]},
  {rect:[403.3,835,303.4,241.7], log:false, xr:[-8.97,223.6], yr:[-3.54,4.68], xf:fmtLin(50), yf:fmtLin(2), xn:'Time after dose (h)', yn:'CWRES', xg:21.6, yg:26.6, pts:clcrTad, fit:clcrTadFit, xm:[25,75,125,175], ym:[-3,-1,1,3]}
];

const grid = [], xAxis = [], yAxis = [], series = [];
const axisCommon = (p, isX) => ({
  gridIndex: 0, type: p.log ? 'log' : 'value', logBase: 10,
  min: isX ? p.xr[0] : p.yr[0], max: isX ? p.xr[1] : p.yr[1],
  axisLine: {show: false},
  axisTick: {show: true, length: 3, lineStyle: {color: '#333', width: 1}},
  axisLabel: {color: '#4d4d4d', fontSize: 10.5, fontFamily: FONT, margin: 6, formatter: isX ? p.xf : p.yf, showMinLabel: false, showMaxLabel: false},
  splitLine: {show: true, lineStyle: {color: '#e6e6e6', width: 1}},
  name: isX ? p.xn : p.yn, nameLocation: 'middle', nameGap: isX ? p.xg : p.yg,
  nameTextStyle: {fontSize: 12, color: '#000', fontFamily: FONT}
});
panels.forEach((p, i) => {
  grid.push({left: p.rect[0], top: p.rect[1], width: p.rect[2], height: p.rect[3], show: true, borderColor: '#8c8c8c', borderWidth: 1, backgroundColor: '#fff'});
  const xa = axisCommon(p, true); xa.gridIndex = i; xAxis.push(xa);
  const ya = axisCommon(p, false); ya.gridIndex = i; yAxis.push(ya);
  const xm = p.log ? logMinor.filter(v => v > p.xr[0] && v < p.xr[1]) : p.xm;
  const ym = p.log ? logMinor.filter(v => v > p.yr[0] && v < p.yr[1]) : p.ym;
  series.push({type: 'scatter', xAxisIndex: i, yAxisIndex: i, data: [], silent: true, z: 1,
    markLine: {silent: true, symbol: ['none','none'], z: 1, label: {show: false}, animation: false,
      lineStyle: {color: '#f0f0f0', width: 1, type: 'solid'},
      data: [...xm.map(v => ({xAxis: v})), ...ym.map(v => ({yAxis: v}))]}});
  series.push({type: 'scatter', xAxisIndex: i, yAxisIndex: i, data: p.pts, symbolSize: 5,
    itemStyle: {color: '#000', opacity: 1}, z: 3, silent: true});
  if (p.log) {
    series.push({type: 'line', xAxisIndex: i, yAxisIndex: i, data: [[0.01,0.01],[1000,1000]], showSymbol: false, clip: true,
      lineStyle: {color: '#000', width: 0.9}, z: 4, silent: true});
  } else {
    series.push({type: 'line', xAxisIndex: i, yAxisIndex: i, data: [[p.xr[0],0],[p.xr[1],0]], showSymbol: false, clip: true,
      lineStyle: {color: '#000', width: 1}, z: 2, silent: true});
  }
  series.push({type: 'line', xAxisIndex: i, yAxisIndex: i, data: p.fit, smooth: true, showSymbol: false, clip: true,
    lineStyle: {color: '#3366ff', width: 2.2}, z: 5, silent: true});
});

const option = {
  animation: false,
  backgroundColor: '#fff',
  title: [
    {text: titles[0], left: 176, top: 0, textAlign: 'center', textStyle: {fontSize: 12, fontWeight: 'normal', color: '#000', fontFamily: FONT}},
    {text: '{n|' + titles[1] + '}{s|' + titles[2] + '}{n|' + titles[3] + '}', left: 533, top: 0, textAlign: 'center',
      textStyle: {fontSize: 12, fontWeight: 'normal', color: '#000', fontFamily: FONT,
        rich: {n: {fontSize: 12, color: '#000', fontFamily: FONT, verticalAlign: 'bottom'},
               s: {fontSize: 8.5, color: '#000', fontFamily: FONT, verticalAlign: 'bottom', padding: [5,0,0,0]}}}}
  ],
  grid, xAxis, yAxis, series
};
const chart = echarts.init(document.getElementById('c'));
chart.setOption(option);
</script></body></html>
